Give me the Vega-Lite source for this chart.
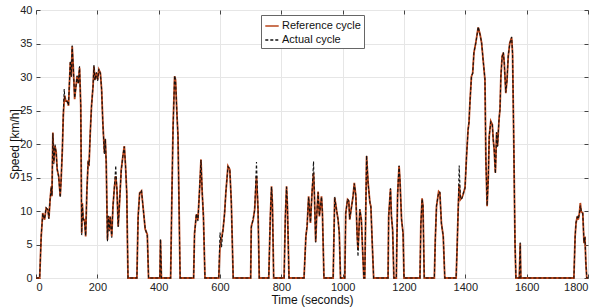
{
  "$schema": "https://vega.github.io/schema/vega-lite/v6.json",
  "width": 552,
  "height": 268,
  "autosize": {"type": "none"},
  "padding": {"left": 36, "top": 10, "right": 6, "bottom": 29},
  "background": "white",
  "config": {
    "font": "Liberation Sans",
    "view": {"stroke": "#444", "strokeWidth": 1},
    "axis": {"labelFontSize": 11, "labelColor": "#222", "titleFontSize": 12, "titleFontWeight": "normal", "titleColor": "#111", "gridColor": "#e6e6e6", "gridWidth": 1, "domain": false, "tickColor": "#444", "tickSize": -4}
  },
  "data": {"values": [
    {"t":0,"Reference cycle":0,"Actual cycle":0},
    {"t":12,"Reference cycle":0,"Actual cycle":0},
    {"t":17,"Reference cycle":6.2,"Actual cycle":6.4},
    {"t":22,"Reference cycle":9.7,"Actual cycle":9.6},
    {"t":28,"Reference cycle":8.7,"Actual cycle":8.8},
    {"t":33,"Reference cycle":10.4,"Actual cycle":10.5},
    {"t":39,"Reference cycle":10.2,"Actual cycle":10.1},
    {"t":42,"Reference cycle":8.9,"Actual cycle":8.8},
    {"t":46,"Reference cycle":11.7,"Actual cycle":11.8},
    {"t":50,"Reference cycle":13.7,"Actual cycle":13.6},
    {"t":52,"Reference cycle":12.2,"Actual cycle":12.3},
    {"t":55,"Reference cycle":21.7,"Actual cycle":21.6},
    {"t":58,"Reference cycle":17.2,"Actual cycle":17.0},
    {"t":62,"Reference cycle":19.7,"Actual cycle":19.9},
    {"t":66,"Reference cycle":18.7,"Actual cycle":18.6},
    {"t":69,"Reference cycle":16.2,"Actual cycle":16.3},
    {"t":74,"Reference cycle":15.2,"Actual cycle":15.1},
    {"t":79,"Reference cycle":12.2,"Actual cycle":12.0},
    {"t":82,"Reference cycle":14.7,"Actual cycle":14.8},
    {"t":86,"Reference cycle":19.2,"Actual cycle":19.3},
    {"t":89,"Reference cycle":24.2,"Actual cycle":24.4},
    {"t":92,"Reference cycle":26.6,"Actual cycle":28.2},
    {"t":94,"Reference cycle":27.2,"Actual cycle":26.8},
    {"t":97,"Reference cycle":26.4,"Actual cycle":26.5},
    {"t":102,"Reference cycle":26.4,"Actual cycle":26.3},
    {"t":106,"Reference cycle":25.7,"Actual cycle":25.8},
    {"t":110,"Reference cycle":30.1,"Actual cycle":30.3},
    {"t":112,"Reference cycle":32.2,"Actual cycle":32.4},
    {"t":115,"Reference cycle":30.1,"Actual cycle":30.0},
    {"t":118,"Reference cycle":34.6,"Actual cycle":34.7},
    {"t":122,"Reference cycle":31.1,"Actual cycle":31.0},
    {"t":126,"Reference cycle":26.7,"Actual cycle":26.9},
    {"t":129,"Reference cycle":28.1,"Actual cycle":28.0},
    {"t":134,"Reference cycle":30.1,"Actual cycle":30.2},
    {"t":138,"Reference cycle":29.1,"Actual cycle":29.0},
    {"t":142,"Reference cycle":31.4,"Actual cycle":31.6},
    {"t":146,"Reference cycle":25.7,"Actual cycle":25.5},
    {"t":149,"Reference cycle":6.7,"Actual cycle":6.4},
    {"t":151,"Reference cycle":11.2,"Actual cycle":11.0},
    {"t":154,"Reference cycle":8.7,"Actual cycle":8.8},
    {"t":158,"Reference cycle":8.7,"Actual cycle":8.5},
    {"t":162,"Reference cycle":6.2,"Actual cycle":6.3},
    {"t":166,"Reference cycle":13.2,"Actual cycle":13.0},
    {"t":170,"Reference cycle":17.2,"Actual cycle":17.4},
    {"t":173,"Reference cycle":17.0,"Actual cycle":16.8},
    {"t":177,"Reference cycle":21.7,"Actual cycle":21.8},
    {"t":181,"Reference cycle":25.7,"Actual cycle":25.6},
    {"t":186,"Reference cycle":28.6,"Actual cycle":28.7},
    {"t":189,"Reference cycle":31.6,"Actual cycle":31.8},
    {"t":192,"Reference cycle":29.6,"Actual cycle":29.5},
    {"t":197,"Reference cycle":30.6,"Actual cycle":30.7},
    {"t":201,"Reference cycle":29.6,"Actual cycle":29.4},
    {"t":205,"Reference cycle":31.1,"Actual cycle":31.2},
    {"t":210,"Reference cycle":30.6,"Actual cycle":30.5},
    {"t":214,"Reference cycle":28.1,"Actual cycle":28.2},
    {"t":218,"Reference cycle":23.2,"Actual cycle":23.0},
    {"t":223,"Reference cycle":18.7,"Actual cycle":18.5},
    {"t":226,"Reference cycle":20.7,"Actual cycle":20.8},
    {"t":229,"Reference cycle":17.2,"Actual cycle":17.1},
    {"t":233,"Reference cycle":5.7,"Actual cycle":5.5},
    {"t":236,"Reference cycle":9.2,"Actual cycle":9.3},
    {"t":239,"Reference cycle":7.2,"Actual cycle":7.0},
    {"t":242,"Reference cycle":9.2,"Actual cycle":9.1},
    {"t":247,"Reference cycle":6.2,"Actual cycle":6.0},
    {"t":251,"Reference cycle":10.7,"Actual cycle":10.8},
    {"t":256,"Reference cycle":13.7,"Actual cycle":13.8},
    {"t":260,"Reference cycle":15.2,"Actual cycle":16.8},
    {"t":264,"Reference cycle":13.2,"Actual cycle":13.1},
    {"t":268,"Reference cycle":7.7,"Actual cycle":7.6},
    {"t":273,"Reference cycle":11.7,"Actual cycle":11.8},
    {"t":278,"Reference cycle":16.2,"Actual cycle":16.1},
    {"t":284,"Reference cycle":18.4,"Actual cycle":18.5},
    {"t":288,"Reference cycle":19.7,"Actual cycle":19.6},
    {"t":292,"Reference cycle":16.7,"Actual cycle":16.8},
    {"t":296,"Reference cycle":12.7,"Actual cycle":12.5},
    {"t":298,"Reference cycle":6.0,"Actual cycle":6.2},
    {"t":300,"Reference cycle":0,"Actual cycle":0},
    {"t":329,"Reference cycle":0,"Actual cycle":0},
    {"t":333,"Reference cycle":9.2,"Actual cycle":9.0},
    {"t":338,"Reference cycle":12.7,"Actual cycle":12.6},
    {"t":344,"Reference cycle":13.0,"Actual cycle":13.1},
    {"t":349,"Reference cycle":10.7,"Actual cycle":10.6},
    {"t":356,"Reference cycle":7.3,"Actual cycle":7.4},
    {"t":363,"Reference cycle":6.5,"Actual cycle":6.3},
    {"t":367,"Reference cycle":0,"Actual cycle":0},
    {"t":404,"Reference cycle":0,"Actual cycle":0},
    {"t":406,"Reference cycle":5.7,"Actual cycle":5.8},
    {"t":409,"Reference cycle":0,"Actual cycle":0},
    {"t":439,"Reference cycle":0,"Actual cycle":0},
    {"t":443,"Reference cycle":12.0,"Actual cycle":12.1},
    {"t":447,"Reference cycle":22.7,"Actual cycle":22.5},
    {"t":452,"Reference cycle":30.1,"Actual cycle":30.2},
    {"t":455,"Reference cycle":29.6,"Actual cycle":29.5},
    {"t":460,"Reference cycle":24.0,"Actual cycle":24.1},
    {"t":463,"Reference cycle":21.3,"Actual cycle":21.2},
    {"t":470,"Reference cycle":0,"Actual cycle":0},
    {"t":514,"Reference cycle":0,"Actual cycle":0},
    {"t":517,"Reference cycle":6.7,"Actual cycle":6.6},
    {"t":523,"Reference cycle":9.5,"Actual cycle":9.6},
    {"t":528,"Reference cycle":8.7,"Actual cycle":8.5},
    {"t":534,"Reference cycle":13.7,"Actual cycle":13.8},
    {"t":538,"Reference cycle":17.7,"Actual cycle":17.6},
    {"t":542,"Reference cycle":12.7,"Actual cycle":12.8},
    {"t":546,"Reference cycle":9.2,"Actual cycle":9.1},
    {"t":551,"Reference cycle":0,"Actual cycle":0},
    {"t":596,"Reference cycle":0,"Actual cycle":0},
    {"t":600,"Reference cycle":4.8,"Actual cycle":6.8},
    {"t":605,"Reference cycle":6.0,"Actual cycle":4.6},
    {"t":610,"Reference cycle":7.2,"Actual cycle":7.3},
    {"t":615,"Reference cycle":9.7,"Actual cycle":9.6},
    {"t":619,"Reference cycle":12.7,"Actual cycle":12.8},
    {"t":626,"Reference cycle":16.7,"Actual cycle":16.6},
    {"t":632,"Reference cycle":16.2,"Actual cycle":16.3},
    {"t":637,"Reference cycle":11.2,"Actual cycle":11.1},
    {"t":643,"Reference cycle":0,"Actual cycle":0},
    {"t":700,"Reference cycle":0,"Actual cycle":0},
    {"t":702,"Reference cycle":7.7,"Actual cycle":7.5},
    {"t":708,"Reference cycle":8.7,"Actual cycle":8.8},
    {"t":713,"Reference cycle":10.2,"Actual cycle":10.1},
    {"t":719,"Reference cycle":15.2,"Actual cycle":17.3},
    {"t":724,"Reference cycle":10.2,"Actual cycle":10.3},
    {"t":728,"Reference cycle":0,"Actual cycle":0},
    {"t":759,"Reference cycle":0,"Actual cycle":0},
    {"t":764,"Reference cycle":9.0,"Actual cycle":9.1},
    {"t":768,"Reference cycle":13.7,"Actual cycle":13.6},
    {"t":771,"Reference cycle":11.0,"Actual cycle":11.1},
    {"t":775,"Reference cycle":0,"Actual cycle":0},
    {"t":809,"Reference cycle":0,"Actual cycle":0},
    {"t":813,"Reference cycle":9.0,"Actual cycle":9.1},
    {"t":817,"Reference cycle":13.7,"Actual cycle":13.6},
    {"t":820,"Reference cycle":10.5,"Actual cycle":10.6},
    {"t":825,"Reference cycle":0,"Actual cycle":0},
    {"t":874,"Reference cycle":0,"Actual cycle":0},
    {"t":880,"Reference cycle":6.2,"Actual cycle":6.1},
    {"t":884,"Reference cycle":7.7,"Actual cycle":7.8},
    {"t":889,"Reference cycle":12.2,"Actual cycle":12.1},
    {"t":895,"Reference cycle":8.2,"Actual cycle":8.3},
    {"t":900,"Reference cycle":12.7,"Actual cycle":12.6},
    {"t":905,"Reference cycle":15.7,"Actual cycle":17.4},
    {"t":908,"Reference cycle":12.2,"Actual cycle":12.3},
    {"t":912,"Reference cycle":5.4,"Actual cycle":5.3},
    {"t":915,"Reference cycle":9.0,"Actual cycle":9.1},
    {"t":920,"Reference cycle":12.9,"Actual cycle":12.8},
    {"t":924,"Reference cycle":9.2,"Actual cycle":9.3},
    {"t":931,"Reference cycle":12.2,"Actual cycle":12.1},
    {"t":934,"Reference cycle":9.7,"Actual cycle":9.8},
    {"t":939,"Reference cycle":0,"Actual cycle":0},
    {"t":969,"Reference cycle":0,"Actual cycle":0},
    {"t":974,"Reference cycle":12.0,"Actual cycle":12.1},
    {"t":980,"Reference cycle":10.2,"Actual cycle":10.1},
    {"t":985,"Reference cycle":8.7,"Actual cycle":8.8},
    {"t":989,"Reference cycle":6.7,"Actual cycle":6.6},
    {"t":993,"Reference cycle":0,"Actual cycle":0},
    {"t":1007,"Reference cycle":0,"Actual cycle":0},
    {"t":1010,"Reference cycle":9.7,"Actual cycle":9.6},
    {"t":1016,"Reference cycle":11.7,"Actual cycle":11.8},
    {"t":1020,"Reference cycle":11.5,"Actual cycle":11.4},
    {"t":1023,"Reference cycle":8.7,"Actual cycle":8.8},
    {"t":1029,"Reference cycle":10.7,"Actual cycle":10.6},
    {"t":1034,"Reference cycle":12.2,"Actual cycle":12.3},
    {"t":1038,"Reference cycle":14.2,"Actual cycle":14.1},
    {"t":1043,"Reference cycle":12.2,"Actual cycle":12.3},
    {"t":1047,"Reference cycle":6.7,"Actual cycle":6.5},
    {"t":1050,"Reference cycle":4.2,"Actual cycle":3.2},
    {"t":1056,"Reference cycle":10.2,"Actual cycle":10.3},
    {"t":1061,"Reference cycle":8.7,"Actual cycle":8.6},
    {"t":1065,"Reference cycle":4.2,"Actual cycle":4.3},
    {"t":1069,"Reference cycle":0,"Actual cycle":0},
    {"t":1072,"Reference cycle":0,"Actual cycle":0},
    {"t":1078,"Reference cycle":18.2,"Actual cycle":18.3},
    {"t":1083,"Reference cycle":14.2,"Actual cycle":14.1},
    {"t":1089,"Reference cycle":11.2,"Actual cycle":11.3},
    {"t":1092,"Reference cycle":10.7,"Actual cycle":10.6},
    {"t":1096,"Reference cycle":5.7,"Actual cycle":5.8},
    {"t":1101,"Reference cycle":0,"Actual cycle":0},
    {"t":1148,"Reference cycle":0,"Actual cycle":0},
    {"t":1150,"Reference cycle":9.2,"Actual cycle":9.1},
    {"t":1156,"Reference cycle":13.3,"Actual cycle":13.4},
    {"t":1159,"Reference cycle":9.2,"Actual cycle":9.3},
    {"t":1163,"Reference cycle":7.2,"Actual cycle":7.1},
    {"t":1167,"Reference cycle":0,"Actual cycle":0},
    {"t":1175,"Reference cycle":0,"Actual cycle":0},
    {"t":1179,"Reference cycle":12.2,"Actual cycle":12.1},
    {"t":1181,"Reference cycle":14.2,"Actual cycle":14.3},
    {"t":1184,"Reference cycle":16.7,"Actual cycle":16.8},
    {"t":1187,"Reference cycle":14.5,"Actual cycle":14.4},
    {"t":1192,"Reference cycle":8.7,"Actual cycle":8.8},
    {"t":1197,"Reference cycle":6.7,"Actual cycle":6.6},
    {"t":1200,"Reference cycle":0,"Actual cycle":0},
    {"t":1252,"Reference cycle":0,"Actual cycle":0},
    {"t":1255,"Reference cycle":8.0,"Actual cycle":8.1},
    {"t":1259,"Reference cycle":11.9,"Actual cycle":11.8},
    {"t":1262,"Reference cycle":10.7,"Actual cycle":10.8},
    {"t":1266,"Reference cycle":0,"Actual cycle":0},
    {"t":1299,"Reference cycle":0,"Actual cycle":0},
    {"t":1302,"Reference cycle":5.7,"Actual cycle":5.6},
    {"t":1306,"Reference cycle":10.7,"Actual cycle":10.8},
    {"t":1313,"Reference cycle":12.9,"Actual cycle":12.8},
    {"t":1317,"Reference cycle":12.7,"Actual cycle":12.8},
    {"t":1322,"Reference cycle":8.2,"Actual cycle":8.1},
    {"t":1328,"Reference cycle":6.2,"Actual cycle":6.3},
    {"t":1333,"Reference cycle":0,"Actual cycle":0},
    {"t":1370,"Reference cycle":0,"Actual cycle":0},
    {"t":1373,"Reference cycle":4.2,"Actual cycle":4.3},
    {"t":1377,"Reference cycle":10.7,"Actual cycle":10.6},
    {"t":1380,"Reference cycle":14.0,"Actual cycle":16.8},
    {"t":1384,"Reference cycle":11.7,"Actual cycle":11.8},
    {"t":1389,"Reference cycle":12.0,"Actual cycle":11.9},
    {"t":1393,"Reference cycle":12.5,"Actual cycle":12.6},
    {"t":1399,"Reference cycle":13.5,"Actual cycle":13.4},
    {"t":1404,"Reference cycle":18.2,"Actual cycle":18.3},
    {"t":1409,"Reference cycle":22.2,"Actual cycle":22.1},
    {"t":1412,"Reference cycle":23.2,"Actual cycle":23.3},
    {"t":1415,"Reference cycle":26.2,"Actual cycle":26.1},
    {"t":1420,"Reference cycle":30.1,"Actual cycle":30.2},
    {"t":1424,"Reference cycle":30.6,"Actual cycle":30.5},
    {"t":1428,"Reference cycle":33.6,"Actual cycle":33.7},
    {"t":1434,"Reference cycle":35.1,"Actual cycle":35.0},
    {"t":1442,"Reference cycle":37.4,"Actual cycle":37.5},
    {"t":1448,"Reference cycle":36.4,"Actual cycle":36.3},
    {"t":1453,"Reference cycle":35.1,"Actual cycle":35.2},
    {"t":1458,"Reference cycle":32.6,"Actual cycle":32.5},
    {"t":1464,"Reference cycle":29.6,"Actual cycle":29.7},
    {"t":1467,"Reference cycle":17.7,"Actual cycle":17.6},
    {"t":1471,"Reference cycle":10.7,"Actual cycle":10.8},
    {"t":1475,"Reference cycle":15.2,"Actual cycle":15.1},
    {"t":1478,"Reference cycle":21.2,"Actual cycle":21.3},
    {"t":1483,"Reference cycle":23.4,"Actual cycle":23.3},
    {"t":1488,"Reference cycle":22.9,"Actual cycle":23.0},
    {"t":1491,"Reference cycle":20.7,"Actual cycle":20.6},
    {"t":1494,"Reference cycle":19.2,"Actual cycle":19.3},
    {"t":1498,"Reference cycle":15.7,"Actual cycle":15.6},
    {"t":1502,"Reference cycle":21.7,"Actual cycle":21.8},
    {"t":1505,"Reference cycle":19.7,"Actual cycle":19.6},
    {"t":1510,"Reference cycle":23.7,"Actual cycle":23.8},
    {"t":1513,"Reference cycle":25.2,"Actual cycle":25.1},
    {"t":1516,"Reference cycle":30.1,"Actual cycle":30.2},
    {"t":1520,"Reference cycle":33.1,"Actual cycle":33.0},
    {"t":1524,"Reference cycle":33.6,"Actual cycle":33.7},
    {"t":1527,"Reference cycle":32.1,"Actual cycle":32.0},
    {"t":1532,"Reference cycle":27.6,"Actual cycle":27.7},
    {"t":1536,"Reference cycle":29.6,"Actual cycle":29.5},
    {"t":1540,"Reference cycle":33.1,"Actual cycle":33.2},
    {"t":1545,"Reference cycle":35.1,"Actual cycle":35.0},
    {"t":1551,"Reference cycle":35.9,"Actual cycle":36.0},
    {"t":1554,"Reference cycle":33.6,"Actual cycle":33.5},
    {"t":1558,"Reference cycle":20.2,"Actual cycle":20.3},
    {"t":1562,"Reference cycle":5.2,"Actual cycle":5.1},
    {"t":1565,"Reference cycle":0,"Actual cycle":0},
    {"t":1576,"Reference cycle":0,"Actual cycle":0},
    {"t":1579,"Reference cycle":5.2,"Actual cycle":5.3},
    {"t":1581,"Reference cycle":0,"Actual cycle":0},
    {"t":1754,"Reference cycle":0,"Actual cycle":0},
    {"t":1758,"Reference cycle":6.2,"Actual cycle":6.1},
    {"t":1761,"Reference cycle":8.2,"Actual cycle":8.3},
    {"t":1765,"Reference cycle":9.2,"Actual cycle":9.1},
    {"t":1768,"Reference cycle":8.7,"Actual cycle":8.8},
    {"t":1772,"Reference cycle":9.7,"Actual cycle":9.6},
    {"t":1775,"Reference cycle":11.2,"Actual cycle":10.8},
    {"t":1778,"Reference cycle":9.9,"Actual cycle":10.0},
    {"t":1783,"Reference cycle":9.7,"Actual cycle":9.6},
    {"t":1787,"Reference cycle":5.2,"Actual cycle":5.3},
    {"t":1790,"Reference cycle":6.2,"Actual cycle":6.1},
    {"t":1793,"Reference cycle":2.2,"Actual cycle":2.3},
    {"t":1796,"Reference cycle":0,"Actual cycle":0},
    {"t":1800,"Reference cycle":0,"Actual cycle":0}
  ]},
  "transform": [{"fold": ["Reference cycle", "Actual cycle"], "as": ["series", "speed"]}],
  "resolve": {"axis": {"x": "independent", "y": "independent"}},
  "layer": [
    {"transform": [{"filter": "datum.series === 'Reference cycle'"}], "mark": {"type": "line", "strokeWidth": 1.8},
      "encoding": {
        "x": {"field": "t", "type": "quantitative", "scale": {"domain": [0, 1800], "nice": false},
          "axis": {"values": [0,200,400,600,800,1000,1200,1400,1600,1800], "format": "d", "title": "Time (seconds)", "labelPadding": 7, "titlePadding": 2, "grid": true}},
        "y": {"field": "speed", "type": "quantitative", "scale": {"domain": [0, 40], "nice": false},
          "axis": {"values": [0,5,10,15,20,25,30,35,40], "title": "Speed [km/h]", "labelPadding": 8, "titlePadding": -2, "grid": true}},
        "color": {"field": "series", "type": "nominal",
          "scale": {"domain": ["Reference cycle", "Actual cycle"], "range": ["#b8441a", "#111111"]},
          "legend": {"title": null, "orient": "none", "legendX": 225, "legendY": 5, "symbolType": "stroke", "symbolSize": 180, "symbolStrokeWidth": 1.6, "labelFontSize": 11, "labelColor": "#111", "labelOffset": 2, "rowPadding": 1, "padding": 3, "strokeColor": "#666", "fillColor": "white", "cornerRadius": 0}},
        "strokeDash": {"field": "series", "type": "nominal",
          "scale": {"domain": ["Reference cycle", "Actual cycle"], "range": [[1, 0], [3, 2]]},
          "legend": {"title": null}}
      }},
    {"transform": [{"filter": "datum.series === 'Actual cycle'"}], "mark": {"type": "line", "strokeWidth": 1.1},
      "encoding": {
        "x": {"field": "t", "type": "quantitative", "axis": null},
        "y": {"field": "speed", "type": "quantitative", "axis": null},
        "color": {"field": "series", "type": "nominal"},
        "strokeDash": {"field": "series", "type": "nominal"}
      }},
    {"transform": [{"filter": "datum.series === 'Actual cycle'"}], "mark": {"type": "line", "opacity": 0},
      "encoding": {
        "x": {"field": "t", "type": "quantitative", "axis": {"orient": "top", "values": [0,200,400,600,800,1000,1200,1400,1600,1800], "labels": false, "title": null, "grid": false}},
        "y": {"field": "speed", "type": "quantitative", "axis": {"orient": "right", "values": [0,5,10,15,20,25,30,35,40], "labels": false, "title": null, "grid": false}}
      }}
  ]
}
